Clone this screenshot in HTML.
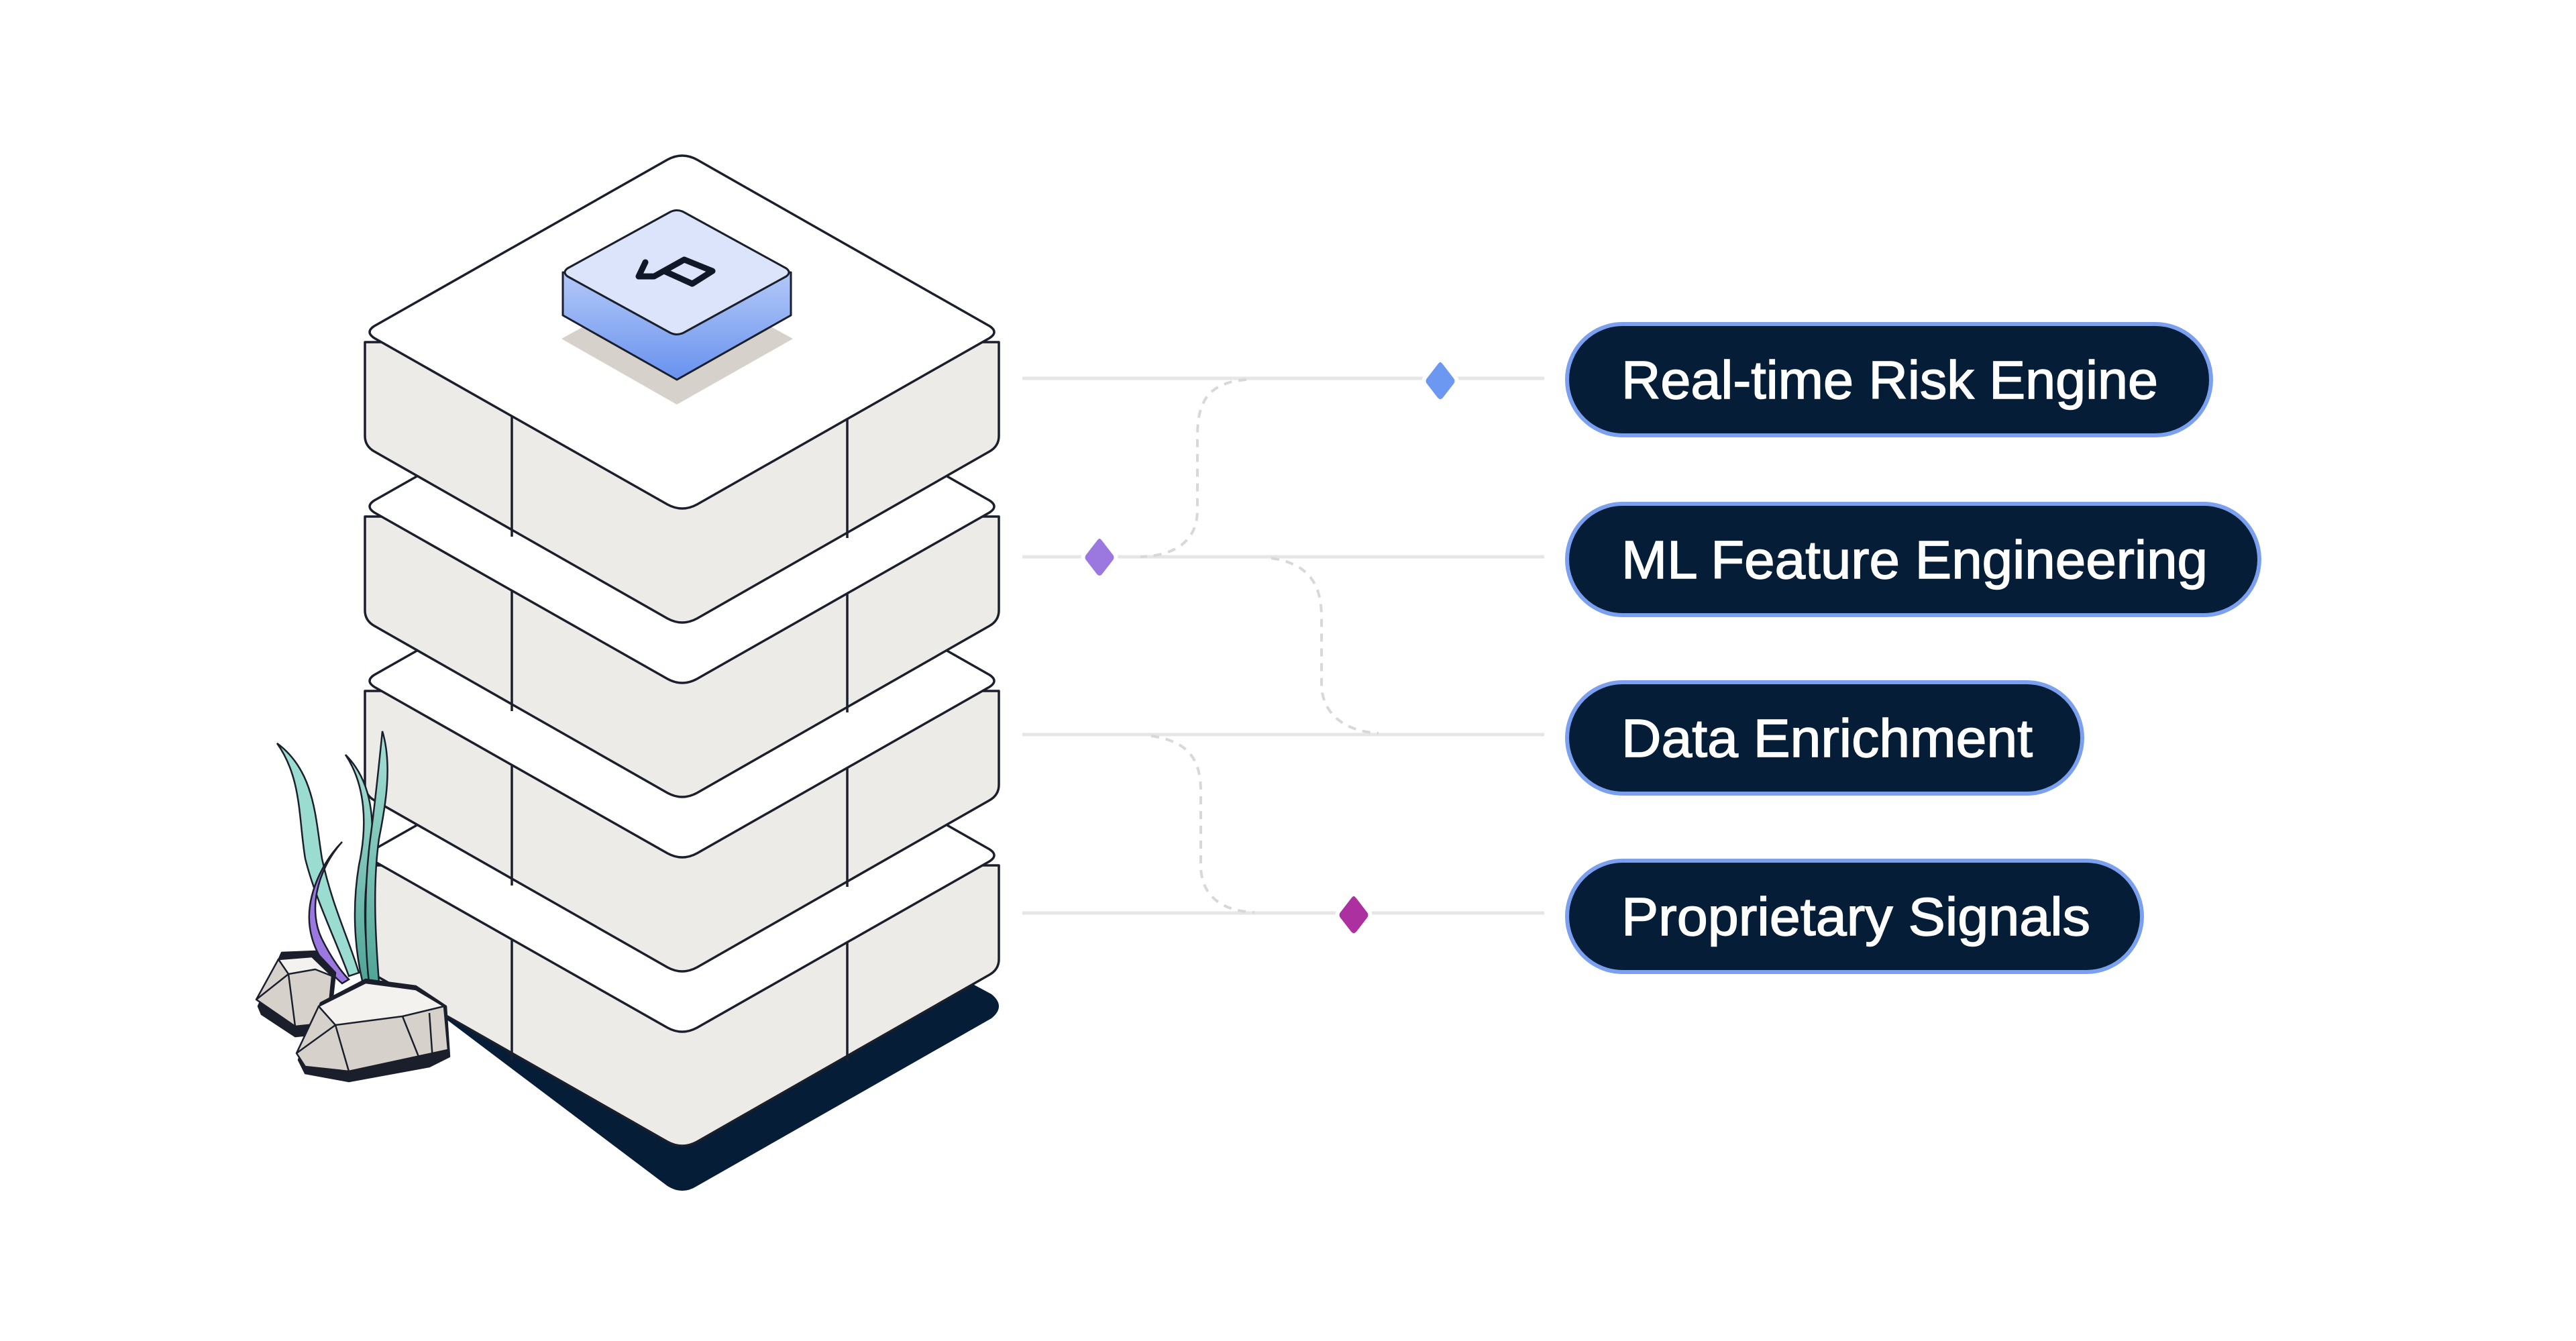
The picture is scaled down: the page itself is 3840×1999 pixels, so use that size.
<!DOCTYPE html>
<html><head><meta charset="utf-8"><style>html,body{margin:0;padding:0;background:#fff}svg{display:block}</style></head>
<body>
<svg width="3840" height="1999" viewBox="0 0 3840 1999" xmlns="http://www.w3.org/2000/svg">
<defs>
<linearGradient id="chip" x1="0" y1="0" x2="0" y2="1"><stop offset="0" stop-color="#b3c8f8"/><stop offset="1" stop-color="#6892ee"/></linearGradient>
<linearGradient id="sw1" x1="0" y1="0" x2="0" y2="1"><stop offset="0" stop-color="#a8e0d6"/><stop offset="1" stop-color="#4fa596"/></linearGradient>
<g id="layer">
  <path d="M544,510 L544,650 Q544,665 558,673 L995,922 Q1017,934 1039,922 L1475,673 Q1489,665 1489,650 L1489,510 Z" fill="#ecebe7" stroke="#1a1f2b" stroke-width="3.5" stroke-linejoin="round"/>
  <line x1="763" y1="620" x2="763" y2="800" stroke="#1a1f2b" stroke-width="3.5"/>
  <line x1="1263" y1="624" x2="1263" y2="802" stroke="#1a1f2b" stroke-width="3.5"/>
  <path d="M995,238 Q1017,226 1039,238 L1475,486 Q1489,495 1475,504 L1039,752 Q1017,764 995,752 L558,504 Q544,495 558,486 Z" fill="#fff" stroke="#1a1f2b" stroke-width="3.5" stroke-linejoin="round"/>
</g>
</defs>
<rect width="3840" height="1999" fill="#fff"/>
<path d="M560,1440 L995,1768 Q1017,1782 1039,1768 L1478,1518 Q1500,1500 1478,1482 L1400,1440 Z" fill="#051d36"/>
<use href="#layer" y="780"/>
<use href="#layer" y="520"/>
<use href="#layer" y="260"/>
<use href="#layer" y="0"/>
<path d="M837,505 L1009,410 L1182,505 L1009,603 Z" fill="#d6d1ca"/>
<path d="M839,406 L839,470 L1009,566 L1179,470 L1179,406 Z" fill="url(#chip)" stroke="#1a1f2b" stroke-width="3" stroke-linejoin="round"/>
<path d="M999,316 Q1009,311 1019,316 L1172,400 Q1180,406 1172,412 L1019,496 Q1009,501 999,496 L846,412 Q838,406 846,400 Z" fill="#dbe4fa" stroke="#1a1f2b" stroke-width="3" stroke-linejoin="round"/>
<path d="M962,391 L952,412 L975,412 L1020,387 L1062,404 L1032,423 L990,404" fill="none" stroke="#101828" stroke-width="9" stroke-linejoin="round" stroke-linecap="round"/>
<g stroke="#e6e6e6" stroke-width="5">
<line x1="1524" y1="564" x2="2302" y2="564"/>
<line x1="1524" y1="830" x2="2302" y2="830"/>
<line x1="1524" y1="1095" x2="2302" y2="1095"/>
<line x1="1524" y1="1361" x2="2302" y2="1361"/>
</g>
<g stroke="#d8d8d8" stroke-width="4" fill="none" stroke-dasharray="12 10">
<path d="M1858,566 C1800,570 1785,600 1785,650 L1785,760 C1785,800 1760,828 1700,830"/>
<path d="M1895,832 C1950,840 1970,870 1970,920 L1970,1020 C1970,1060 2000,1090 2055,1093"/>
<path d="M1716,1097 C1770,1105 1790,1130 1790,1180 L1790,1290 C1790,1330 1815,1358 1870,1360"/>
</g>
<g stroke="#fff" stroke-width="6" stroke-linejoin="round">
<path d="M2147,537 Q2150,537 2153,541 L2170,563 Q2173,568 2170,573 L2153,595 Q2147,601 2141,595 L2124,573 Q2121,568 2124,563 L2141,541 Q2144,537 2147,537 Z" fill="#6c98f2"/>
<path d="M1639,800 Q1642,800 1645,804 L1662,826 Q1665,831 1662,836 L1645,858 Q1639,864 1633,858 L1616,836 Q1613,831 1616,826 L1633,804 Q1636,800 1639,800 Z" fill="#9b78e0"/>
<path d="M2018,1333 Q2021,1333 2024,1337 L2041,1359 Q2044,1364 2041,1369 L2024,1391 Q2018,1397 2012,1391 L1995,1369 Q1992,1364 1995,1359 L2012,1337 Q2015,1333 2018,1333 Z" fill="#ad30a0"/>
</g>
<g fill="#051d36" stroke="#7ba0f0" stroke-width="6">
<rect x="2336" y="483" width="960" height="166" rx="83"/>
<rect x="2336" y="751" width="1032" height="166" rx="83"/>
<rect x="2336" y="1017" width="768" height="166" rx="83"/>
<rect x="2336" y="1283" width="857" height="166" rx="83"/>
</g>
<g fill="#fff" stroke="#fff" stroke-width="1.5" font-family="Liberation Sans, sans-serif" font-size="80">
<text x="2417" y="594" textLength="800" lengthAdjust="spacingAndGlyphs">Real-time Risk Engine</text>
<text x="2417" y="862" textLength="874" lengthAdjust="spacingAndGlyphs">ML Feature Engineering</text>
<text x="2417" y="1128" textLength="613" lengthAdjust="spacingAndGlyphs">Data Enrichment</text>
<text x="2417" y="1394" textLength="699" lengthAdjust="spacingAndGlyphs">Proprietary Signals</text>
</g>
<g stroke="#1a1f2b" stroke-width="2.5">
<path d="M413,1108 C470,1150 470,1220 480,1280 C495,1350 520,1400 535,1450 L520,1455 C500,1400 470,1340 455,1280 C445,1220 450,1160 413,1108 Z" fill="#9bdcd0"/>
<path d="M515,1125 C560,1170 560,1240 548,1300 C540,1360 545,1420 555,1460 L540,1462 C528,1410 525,1350 535,1290 C548,1230 545,1170 515,1125 Z" fill="url(#sw1)"/>
<path d="M570,1090 C585,1140 575,1200 565,1250 C555,1320 560,1400 565,1465 L550,1465 C543,1400 543,1320 552,1250 C560,1190 565,1140 570,1090 Z" fill="url(#sw1)"/>
<path d="M510,1255 C470,1300 460,1360 480,1400 C495,1430 510,1450 520,1460 L510,1466 C480,1440 455,1400 462,1350 C468,1310 490,1275 510,1255 Z" fill="#9b78e0"/>
</g>
<g stroke="#1a1f2b" stroke-width="2.5" stroke-linejoin="round">
<path d="M385,1500 L420,1420 L470,1418 L500,1450 L490,1540 L440,1545 L390,1512 Z" fill="#1a1f2b"/>
<path d="M382,1490 L415,1430 L465,1426 L495,1455 L488,1525 L440,1530 Z" fill="#d6d2cb"/>
<path d="M415,1430 L430,1452 L470,1445 L495,1455 L465,1426 Z" fill="#f3f2ef"/>
<path d="M382,1490 L430,1452 L440,1530" fill="none"/>
<path d="M445,1580 L478,1495 L545,1460 L620,1470 L665,1500 L670,1575 L640,1590 L520,1612 L455,1600 Z" fill="#1a1f2b"/>
<path d="M442,1570 L475,1500 L545,1465 L620,1475 L662,1500 L668,1565 L520,1597 L455,1590 Z" fill="#d6d2cb"/>
<path d="M475,1500 L545,1465 L620,1475 L662,1500 L600,1515 L500,1528 Z" fill="#f3f2ef"/>
<path d="M442,1570 L500,1528 L520,1597 M600,1515 L628,1585 M640,1510 L645,1580" fill="none"/>
</g>
</svg>
</body></html>
